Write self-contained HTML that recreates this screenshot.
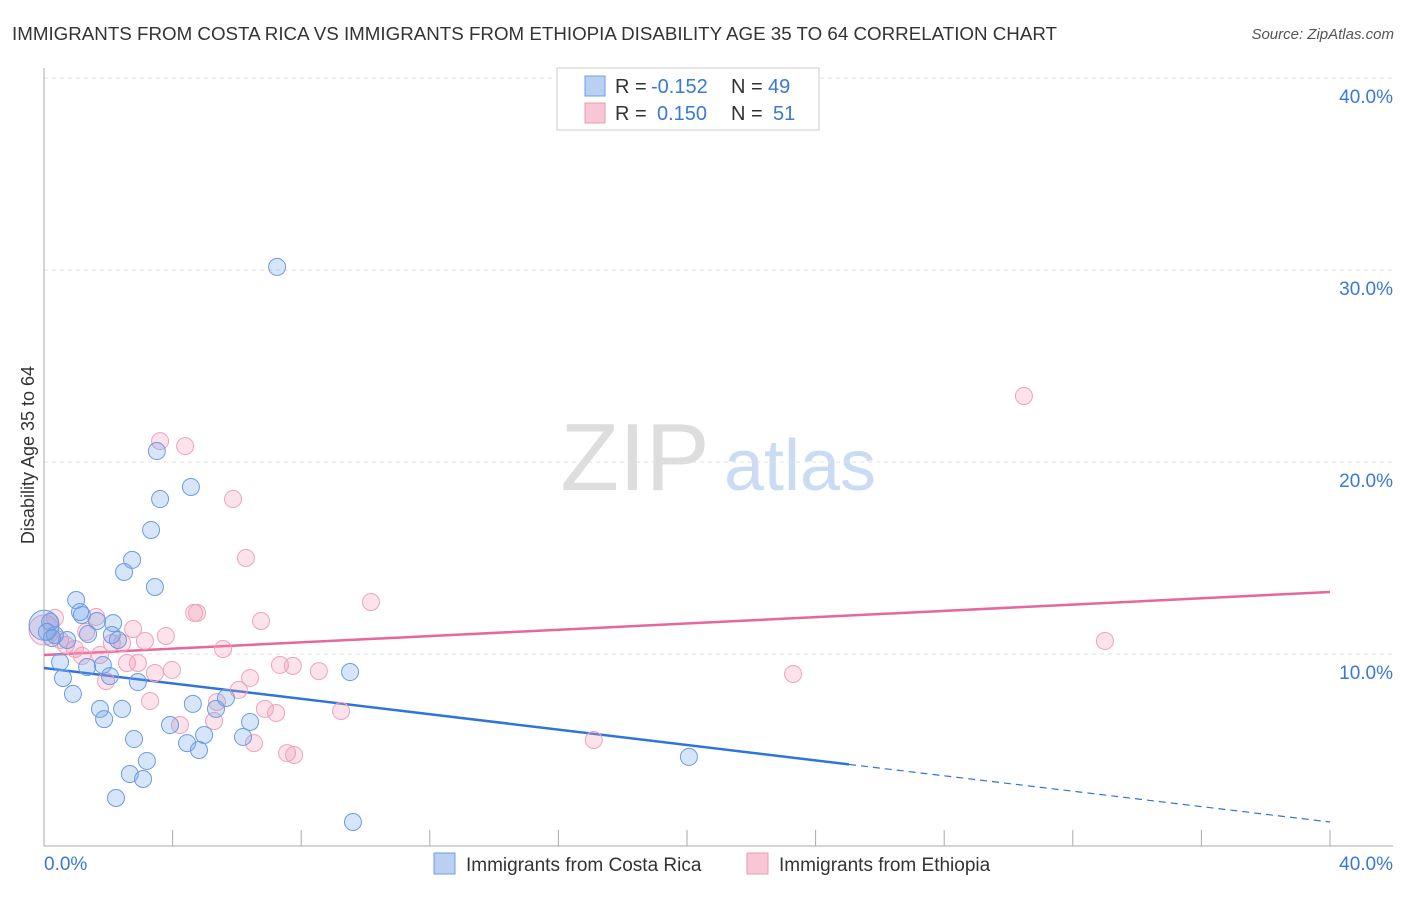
<!DOCTYPE html>
<html><head><meta charset="utf-8"><style>
body{margin:0;background:#fff;font-family:"Liberation Sans",sans-serif;}
svg text{font-family:"Liberation Sans",sans-serif;}
</style></head><body>
<svg id="chart" width="1406" height="892">
<text x="12" y="40" font-size="18" fill="#333" textLength="1045" lengthAdjust="spacingAndGlyphs">IMMIGRANTS FROM COSTA RICA VS IMMIGRANTS FROM ETHIOPIA DISABILITY AGE 35 TO 64 CORRELATION CHART</text>
<text x="1394" y="39" font-size="15" fill="#555" font-style="italic" text-anchor="end">Source: ZipAtlas.com</text>
<g><text x="635" y="490" font-size="96" fill="#ddd" font-family="Liberation Serif" text-anchor="middle">ZIP</text><text x="800" y="490" font-size="72" fill="#c9dcf3" text-anchor="middle">atlas</text></g>
<text transform="translate(34,455) rotate(-90)" font-size="18" fill="#333" text-anchor="middle">Disability Age 35 to 64</text>
<g id="grid"></g><g id="axes"></g><g id="trends"></g><g id="points"></g>
<g>
<rect x="557" y="68" width="262" height="62" fill="#fff" stroke="#ccc"/>
<rect x="585" y="76" width="20" height="20" fill="#b9d0f3" stroke="#6e9ee3"/>
<rect x="585" y="103" width="20" height="20" fill="#f9c6d5" stroke="#eb9ab3"/>
<text x="615" y="93" font-size="20" fill="#333">R =</text>
<text x="651" y="93" font-size="20" fill="#3a78d8">-0.152</text>
<text x="731" y="93" font-size="20" fill="#333">N =</text>
<text x="768" y="93" font-size="20" fill="#3a78d8">49</text>
<text x="615" y="120" font-size="20" fill="#333">R =</text>
<text x="657" y="120" font-size="20" fill="#3a78d8">0.150</text>
<text x="731" y="120" font-size="20" fill="#333">N =</text>
<text x="773" y="120" font-size="20" fill="#3a78d8">51</text>
</g>
<g>
<rect x="434" y="853" width="21" height="21" fill="#b9d0f3" stroke="#6e9ee3"/>
<text x="466" y="871" font-size="19" fill="#333">Immigrants from Costa Rica</text>
<rect x="747" y="853" width="21" height="21" fill="#f9c6d5" stroke="#eb9ab3"/>
<text x="779" y="871" font-size="19" fill="#333">Immigrants from Ethiopia</text>
</g>
</svg>
<script>
const yTicks=[10,20,30,40];
const yTickLabels=["10.0%","20.0%","30.0%","40.0%"];
const xTickLabels=["0.0%","40.0%"];
const blueX=[7.25,3.51,4.57,3.61,3.33,2.74,2.49,3.45,1.0,1.18,1.65,2.15,2.11,2.30,1.37,0.19,0.34,0.09,0.50,1.83,1.34,2.05,2.92,0.59,0.90,9.52,4.63,1.74,2.43,5.35,5.66,1.87,6.41,3.92,2.80,4.98,6.19,4.45,4.82,3.20,2.67,3.08,2.24,20.06,9.61,0.0,0.25,0.72,1.12];
const blueY=[30.16,20.57,18.7,18.07,16.46,14.9,14.27,13.49,12.81,12.03,11.72,11.61,10.99,10.73,11.04,11.67,10.99,11.15,9.58,9.43,9.32,8.85,8.54,8.75,7.92,9.06,7.40,7.14,7.14,7.14,7.71,6.61,6.46,6.30,5.57,5.78,5.68,5.36,5.0,4.43,3.75,3.49,2.5,4.64,1.25,11.5,10.83,10.73,12.19];
const pinkX=[3.61,4.39,5.88,6.28,30.48,10.17,4.67,4.76,6.75,2.77,3.79,3.14,5.57,33.0,1.62,0.34,2.11,2.43,1.31,0.68,7.34,7.74,2.58,2.92,3.45,3.98,8.55,6.41,1.93,6.06,3.30,5.38,6.87,7.22,9.24,5.29,4.23,6.53,7.56,7.78,17.1,23.3,1.18,1.74,0.0,0.5,0.96];
const pinkY=[21.09,20.83,18.07,15.0,23.44,12.71,12.14,12.14,11.72,11.3,10.94,10.68,10.26,10.68,11.93,11.88,10.57,10.57,11.15,10.47,9.43,9.38,9.53,9.53,9.01,9.17,9.11,8.75,8.59,8.13,7.55,7.5,7.14,6.93,7.03,6.51,6.30,5.36,4.84,4.74,5.52,8.96,9.9,9.95,11.25,10.73,10.26];
const blueTrend=[9.27,1.25]; const blueSolidEnd=25.04;
const pinkTrend=[9.95,13.23];
const X=v=>44+v/40*1286, Y=v=>846-v*19.2;
const NS="http://www.w3.org/2000/svg";
function mk(p,t,a){const e=document.createElementNS(NS,t);for(const k in a)e.setAttribute(k,a[k]);document.getElementById(p).appendChild(e);return e;}
yTicks.forEach((t,i)=>{
 const l=mk('grid','line',{x1:44,x2:1393,y1:Y(t),y2:Y(t),stroke:'#e2e2e2','stroke-dasharray':'4,4'});
 
 
 const tx=mk('grid','text',{x:1393,y:Y(t)+25,'font-size':19,fill:'#3a78d8','text-anchor':'end'});tx.textContent=yTickLabels[i];
 
 
});
let a=mk('axes','line',{x1:44,x2:44,y1:68,y2:846,stroke:'#aaa'});


a=mk('axes','line',{x1:44,x2:1393,y1:846,y2:846,stroke:'#aaa'});


for(let i=0;i<=10;i++){const t=mk('axes','line',{x1:X(i*4),x2:X(i*4),y1:830,y2:846,stroke:'#aaa'});
 
 }
let t=mk('axes','text',{x:44,y:870,'font-size':19,fill:'#3a78d8'});t.textContent=xTickLabels[0];


t=mk('axes','text',{x:1393,y:870,'font-size':19,fill:'#3a78d8','text-anchor':'end'});t.textContent=xTickLabels[1];


function draw(xs,ys,fill,stroke,name){xs.forEach((x,i)=>{const big=(x===0);const c=mk('points','circle',{cx:X(x),cy:Y(ys[i]),r:big?15:8.5,fill:fill,stroke:stroke,'stroke-width':1});
 
 });}
draw(pinkX,pinkY,'rgba(244,150,180,0.28)','#eea3bb','ethiopia-point');
draw(blueX,blueY,'rgba(110,160,232,0.28)','#6b9be3','costa-rica-point');
const bs=blueTrend[0]+(blueTrend[1]-blueTrend[0])*blueSolidEnd/40;
let l=mk('trends','line',{x1:X(0),y1:Y(blueTrend[0]),x2:X(blueSolidEnd),y2:Y(bs),stroke:'#2f74d8','stroke-width':2.5});


l=mk('trends','line',{x1:X(blueSolidEnd),y1:Y(bs),x2:X(40),y2:Y(blueTrend[1]),stroke:'#2f74d8','stroke-width':1.2,'stroke-dasharray':'7,5'});


l=mk('trends','line',{x1:X(0),y1:Y(pinkTrend[0]),x2:X(40),y2:Y(pinkTrend[1]),stroke:'#e6689a','stroke-width':2.5});


</script>
</body></html>
